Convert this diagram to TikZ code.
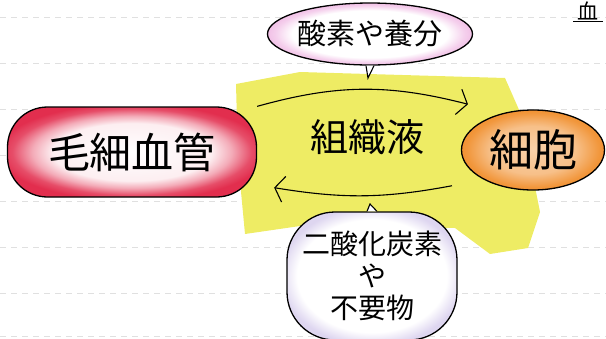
\documentclass[tikz,border=0pt]{standalone}
\usepackage{fontspec}
\usepackage{xcolor}
\newfontfamily\jpfont{Noto Sans CJK JP}
\usetikzlibrary{positioning,shapes,arrows.meta}
\definecolor{capred}{RGB}{226,46,78}
\definecolor{cellorange}{RGB}{240,140,40}
\definecolor{fluidyellow}{RGB}{238,236,100}
\definecolor{bubblepink}{RGB}{232,150,214}
\definecolor{bubblelilac}{RGB}{222,214,240}
\pgfdeclareradialshading{capshade}{\pgfpointorigin}{color(0bp)=(white); color(16bp)=(capred!8); color(20bp)=(capred!40); color(24bp)=(capred!85); color(27bp)=(capred); color(50bp)=(capred)}
\pgfdeclareradialshading{cellshade}{\pgfpointorigin}{color(0bp)=(cellorange!40); color(15bp)=(cellorange!55); color(23bp)=(cellorange!90); color(27bp)=(cellorange); color(50bp)=(cellorange)}
\pgfdeclareradialshading{pinkshade}{\pgfpointorigin}{color(0bp)=(white); color(19bp)=(white); color(23bp)=(bubblepink!45); color(27bp)=(bubblepink!75); color(50bp)=(bubblepink!75)}
\pgfdeclareradialshading{lilacshade}{\pgfpointorigin}{color(0bp)=(white); color(22bp)=(white); color(27bp)=(bubblelilac); color(50bp)=(bubblelilac)}
\tikzset{
  basic/.style  = {draw=black, line width=1.3pt, align=center},
  vessel/.style = {basic, rectangle, rounded corners=40pt, minimum width=249pt,
                   minimum height=90pt, shading=capshade},
  cellnode/.style = {basic, ellipse, minimum width=143pt, minimum height=80pt,
                   inner sep=0pt, shading=cellshade},
  bubble/.style = {basic, inner sep=0pt},
  flow/.style   = {line width=1.1pt, -{Straight Barb[length=9pt,width=26pt]}}
}

\begin{document}
\begin{tikzpicture}[x=1pt, y=-1pt]
\useasboundingbox (0,0) rectangle (606,338);

% notebook lines
\foreach \ly in {17,63,109,155,201,247,293,336}
  \draw[black!12, dashed, dash pattern=on 6pt off 5pt] (0,\ly) -- (606,\ly);

% the tissue fluid, scribbled yellow
\fill[fluidyellow] (236,84) -- (300,72) -- (505,78) -- (520,112) -- (540,212)
  -- (528,248) -- (490,254) -- (455,228) -- (300,226) -- (245,234) -- (238,160) -- cycle;

% main nodes
\node[vessel, font=\jpfont\fontsize{42}{46}\selectfont] (capillary) at (132,152) {毛細血管};
\node[cellnode, font=\jpfont\fontsize{44}{48}\selectfont] (cell) at (533,150) {細胞};
\node[font=\jpfont\fontsize{38}{42}\selectfont] (fluid) at (367,137) {組織液};

% the two speech bubbles
\node[bubble, ellipse, minimum width=180pt, minimum height=62pt, shading=pinkshade,
  font=\jpfont\fontsize{29}{31}\selectfont] (nutrient) at (370,34) {酸素や養分};
\node[bubble, rectangle, rounded corners=48pt, minimum width=170pt, minimum height=128pt,
  shading=lilacshade, font=\jpfont\fontsize{28}{32}\selectfont]
  (waste) at (372,276) {二酸化炭素\\や\\不要物};

\coordinate (ntip) at (368,78);
\coordinate (wtip) at (370,204);
\draw[line width=1.1pt, fill=white] ([xshift=-4pt]nutrient.south) -- (ntip) -- ([xshift=4pt]nutrient.south);
\draw[line width=1.1pt, fill=white] ([xshift=-5pt]waste.north) -- (wtip) -- ([xshift=5pt]waste.north);

% flows through the fluid
\draw[flow] (capillary.north east) to[bend left=15] ([xshift=-14pt,yshift=17pt]cell.north west);
\draw[flow] ([xshift=-30pt,yshift=-7pt]cell.south west) to[bend left=10] ([xshift=17pt,yshift=10pt]capillary.south east);

% corner mark
\node[font=\jpfont\fontsize{21}{23}\selectfont, inner sep=1pt] (mark) at (588,11) {血};
\draw[line width=1pt] ([xshift=-3pt]mark.south west) -- ([xshift=3pt]mark.south east);

\end{tikzpicture}
\end{document}
